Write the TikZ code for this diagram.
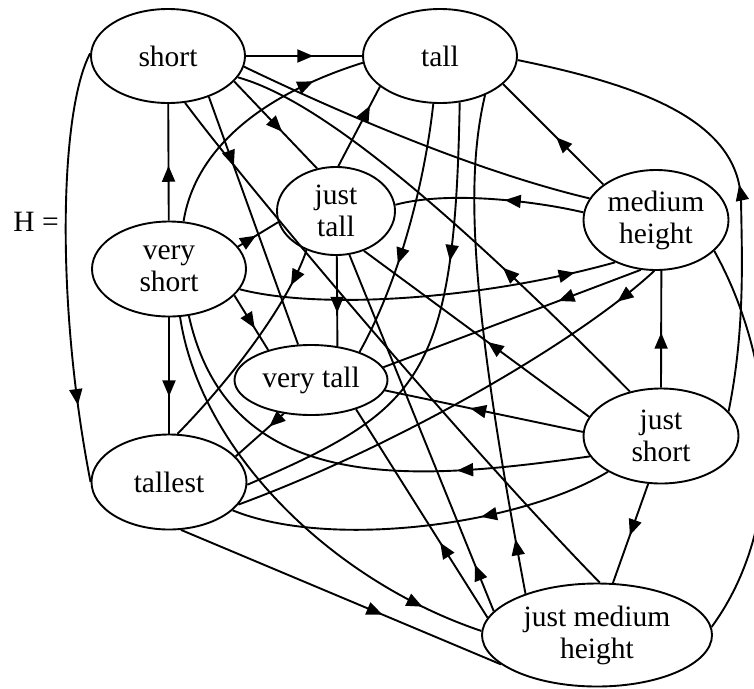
\documentclass[tikz,border=0pt]{standalone}
\usepackage{fontspec}
\setmainfont{Liberation Serif}
\usetikzlibrary{shapes.geometric,arrows.meta,decorations.markings}

\begin{document}
\begin{tikzpicture}[x=1pt,y=-1pt,line width=1.9pt,
  hnode/.style={ellipse,draw,inner sep=0pt,align=center,font=\fontsize{29.5}{32}\selectfont},
  mid/.style={postaction={decorate},decoration={markings,
    mark=at position #1 with {\arrow{Triangle[length=16pt,width=13pt]}}}}]
  \useasboundingbox (0,0) rectangle (754,688);
  % nodes
  \node[font=\fontsize{29.5}{32}\selectfont] (h) at (36,222) {H =};
  \node[hnode,minimum width=154pt,minimum height=94pt] (s) at (168,56) {short};
  \node[hnode,minimum width=154pt,minimum height=94pt] (t) at (440,56) {tall};
  \node[hnode,minimum width=118pt,minimum height=88pt] (jt) at (336,211) {just\\tall};
  \node[hnode,minimum width=145pt,minimum height=100pt] (mh) at (656,220) {medium\\height};
  \node[hnode,minimum width=154pt,minimum height=95pt] (vs) at (169,269) {very\\short};
  \node[hnode,minimum width=153pt,minimum height=70pt] (vt) at (311,380) {very tall};
  \node[hnode,minimum width=155pt,minimum height=95pt] (tl) at (169,482) {tallest};
  \node[hnode,minimum width=155pt,minimum height=95pt] (js) at (661,436) {just\\short};
  \node[hnode,minimum width=230pt,minimum height=103pt] (jmh) at (597,635) {just medium\\height};
  % short
  \draw[mid=0.58] (s.0) -- (t.180);
  \draw[mid=0.58] (s.-21) -- (jt.114);
  \draw[mid=0.28] (s.-45) -- (vt.110);
  \draw (s.-70) .. controls (250,190) and (470,450) .. (jmh.87);
  \draw[mid=0.82] (s.178) .. controls (60,110) and (55,300) .. (tl.180);
  \draw (s.-8) .. controls (330,108) and (470,170) .. (mh.162);
  % tall
  \draw[mid=0.63] (t.262) .. controls (425,180) and (400,280) .. (vt.30);
  \draw[mid=0.33] (t.293) .. controls (455,380) and (420,410) .. (tl.-2);
  \draw[mid=0.76] (jt.87) -- (t.207);
  \draw[mid=0.79] (vs.73) .. controls (195,150) and (260,95) .. (t.185);
  \draw[mid=0.47] (mh.146) -- (t.-24);
  \draw[mid=0.11] (jmh.150) .. controls (470,300) and (465,180) .. (t.319);
  \draw[mid=0.46] (js.20) .. controls (745,330) and (742,260) .. (741,200)
    .. controls (738,120) and (640,85) .. (t.-3);
  % medium height
  \draw[mid=0.42] (mh.174) .. controls (540,202) and (450,190) .. (jt.6);
  \draw[mid=0.89] (vs.-16) .. controls (320,310) and (480,300) .. (mh.226);
  \draw[mid=0.32] (mh.253) -- (vt.10);
  \draw[mid=0.1] (mh.268) .. controls (580,340) and (400,445) .. (tl.-18);
  \draw[mid=0.47] (js.90) -- (mh.-84);
  \draw (mh.-28) .. controls (775,360) and (790,520) .. (jmh.4);
  % very short
  \draw[mid=0.47] (vs) -- (s);
  \draw[mid=0.45] (vs.18) -- (jt.191);
  \draw[mid=0.6] (vs.-22) -- (vt.145);
  \draw[mid=0.68] (vs) -- (tl);
  \draw[mid=0.86] (vs.283) .. controls (200,450) and (330,580) .. (jmh.178);
  % just short
  \draw[mid=0.35] (js.125) .. controls (450,210) and (320,100) .. (s.-17);
  \draw[mid=0.45] (js.165) -- (jt.-55);
  \draw[mid=0.57] (js.177) -- (vt.-8);
  \draw[mid=0.28] (js.196) .. controls (420,480) and (230,500) .. (vs.293);
  \draw[mid=0.35] (js.214) .. controls (520,525) and (330,550) .. (tl.-24);
  \draw[mid=0.52] (js.255) -- (jmh.73);
  % just tall
  \draw[mid=0.17] (jt.233) .. controls (290,300) and (235,375) .. (tl.80);
  \draw[mid=0.63] (jt.-89) -- (vt.52);
  % just medium height
  \draw[mid=0.36] (jmh.171) -- (vt.-33);
  \draw[mid=0.13] (jmh.167) -- (jt.-73);
  \draw[mid=0.63] (tl.-76) -- (jmh.197);
  % very tall
  \draw[mid=0.3] (vt.231) -- (tl.21);
\end{tikzpicture}
\end{document}
